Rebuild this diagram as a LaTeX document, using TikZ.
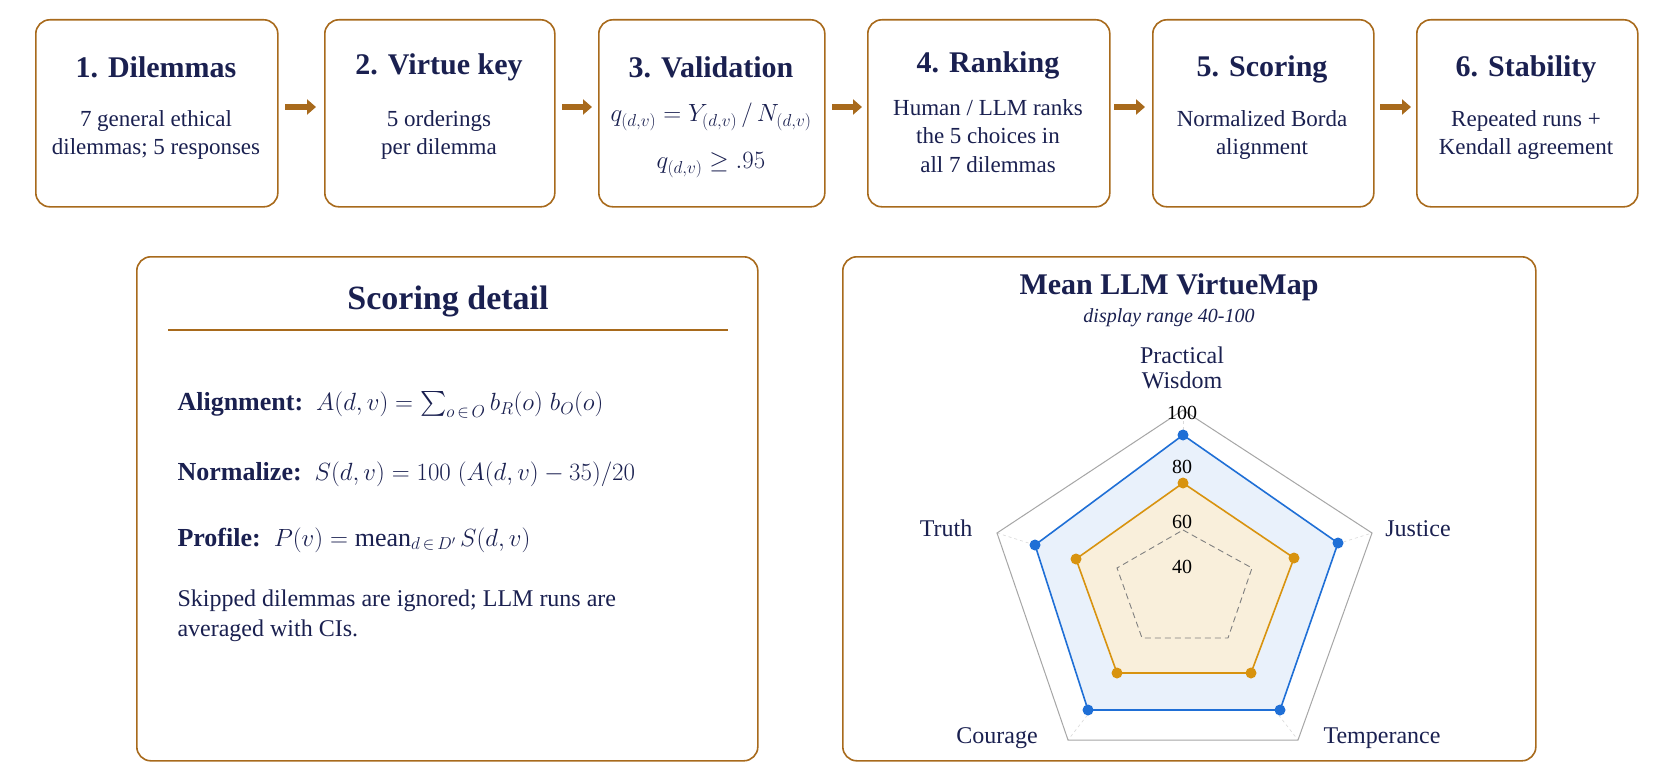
\documentclass[tikz,border=0pt]{standalone}
\usepackage{amsmath}
\usepackage{fontspec}
\setmainfont{Liberation Serif}
\usetikzlibrary{arrows.meta}
\definecolor{brn}{HTML}{A86A1C}
\definecolor{navy}{HTML}{1A2050}
\definecolor{bl}{HTML}{1F6FD6}
\definecolor{org}{HTML}{D8930F}
\newcommand{\fs}[1]{\fontsize{#1pt}{\dimexpr #1pt*5/4\relax}\selectfont}
\begin{document}
\begin{tikzpicture}[x=1pt,y=-1pt,
  box/.style={draw=brn,line width=1.6pt,rounded corners=14pt,fill=white},
  stepbox/.style={box,minimum height=187pt,anchor=north west},
  ttl/.style={font=\fs{30}\bfseries,text=navy},
  txt/.style={font=\fs{23},text=navy,align=center},
  arr/.style={-{Triangle[length=9pt,width=15pt]},line width=6pt,draw=brn}]
\useasboundingbox (0,0) rectangle (1672,776);
\fill[white] (0,0) rectangle (1672,776);
% top steps
\node[stepbox,minimum width=242pt] (b1) at (35,19) {};
\node[stepbox,minimum width=230pt] (b2) at (324,19) {};
\node[stepbox,minimum width=226pt] (b3) at (598,19) {};
\node[stepbox,minimum width=242pt] (b4) at (867,19) {};
\node[stepbox,minimum width=221pt] (b5) at (1152,19) {};
\node[stepbox,minimum width=221pt] (b6) at (1416,19) {};
\node[ttl] (t1) at (156,67) {1. Dilemmas};
\node[txt] (d1) at (156,135) {7 general ethical\\dilemmas; 5 responses};
\node[ttl] (t2) at (439,67) {2. Virtue key};
\node[txt] (d2) at (439,135) {5 orderings\\per dilemma};
\node[ttl] (t3) at (711,67) {3. Validation};
\node[txt,font=\fs{25}] (d3a) at (711,117) {$q_{(d,v)} = Y_{(d,v)}\,/\,N_{(d,v)}$};
\node[txt,font=\fs{25}] (d3b) at (711,165) {$q_{(d,v)} \geq .95$};
\node[ttl] (t4) at (988,65) {4. Ranking};
\node[txt] (d4) at (988,136) {Human / LLM ranks\\the 5 choices in\\all 7 dilemmas};
\node[ttl] (t5) at (1262,69) {5. Scoring};
\node[txt] (d5) at (1262,135) {Normalized Borda\\alignment};
\node[ttl] (t6) at (1526,69) {6. Stability};
\node[txt] (d6) at (1526,135) {Repeated runs +\\Kendall agreement};
\coordinate (a1s) at (285,107); \coordinate (a1e) at (316,107);
\coordinate (a2s) at (562,107); \coordinate (a2e) at (592,107);
\coordinate (a3s) at (832,107); \coordinate (a3e) at (862,107);
\coordinate (a4s) at (1114,107); \coordinate (a4e) at (1145,107);
\coordinate (a5s) at (1380,107); \coordinate (a5e) at (1411,107);
\foreach \i in {1,...,5} \draw[arr] (a\i s) -- (a\i e);
% scoring detail
\node[box,minimum width=621pt,minimum height=504pt,anchor=north west] (L) at (136,256) {};
\node[ttl,font=\fs{34}\bfseries] (Lt) at (448,301) {Scoring detail};
\coordinate (r1) at (168,330); \coordinate (r2) at (728,330);
\draw[brn,line width=1.4pt] (r1) -- (r2);
\node[anchor=west,font=\fs{26},text=navy] (f1) at (174,405) {\textbf{Alignment:}\enspace $A(d,v) = \sum_{o\,\in\,O} b_R(o)\; b_O(o)$};
\node[anchor=west,font=\fs{26},text=navy] (f2) at (174,474) {\textbf{Normalize:}\enspace $S(d,v) = 100\;(A(d,v) - 35)/20$};
\node[anchor=west,font=\fs{26},text=navy] (f3) at (174,540) {\textbf{Profile:}\enspace $P(v) = \mathrm{mean}_{d\,\in\,D'}\, S(d,v)$};
\node[anchor=north west,font=\fs{24},text=navy,align=left] (f4) at (174,586) {Skipped dilemmas are ignored; LLM runs are\\averaged with CIs.};
% radar
\node[box,minimum width=693pt,minimum height=504pt,anchor=north west] (R) at (842,256) {};
\node[ttl,font=\fs{30}\bfseries] (Rt) at (1169,287) {Mean LLM VirtueMap};
\node[font=\fs{20}\itshape,text=navy] (Rs) at (1169,318) {display range 40-100};
\coordinate (C) at (1183,592);
\coordinate (o1) at (1183,410); \coordinate (o2) at (1372,533); \coordinate (o3) at (1298,740);
\coordinate (o4) at (1068,740); \coordinate (o5) at (997,533);
\foreach \i in {1,...,5} \draw[gray!30,dashed,line width=0.6pt] (C) -- (o\i);
\draw[gray!70,line width=1pt] (o1)--(o2)--(o3)--(o4)--(o5)--cycle;
\coordinate (g1) at (1183,530); \coordinate (g2) at (1252,568); \coordinate (g3) at (1228,638);
\coordinate (g4) at (1142,638); \coordinate (g5) at (1117,568);
\coordinate (p1) at (1183,435); \coordinate (p2) at (1338,543); \coordinate (p3) at (1280,710);
\coordinate (p4) at (1088,710); \coordinate (p5) at (1035,545);
\coordinate (q1) at (1183,483); \coordinate (q2) at (1294,558); \coordinate (q3) at (1251,673);
\coordinate (q4) at (1117,673); \coordinate (q5) at (1076,559);
\fill[bl!10] (p1)--(p2)--(p3)--(p4)--(p5)--cycle;
\fill[org!15] (q1)--(q2)--(q3)--(q4)--(q5)--cycle;
\draw[gray,line width=0.9pt,dash pattern=on 6pt off 4pt] (g1)--(g2)--(g3)--(g4)--(g5)--cycle;
\draw[bl,line width=1.6pt] (p1)--(p2)--(p3)--(p4)--(p5)--cycle;
\draw[org,line width=1.6pt] (q1)--(q2)--(q3)--(q4)--(q5)--cycle;
\foreach \i in {1,...,5} {\fill[bl] (p\i) circle (5.5pt); \fill[org] (q\i) circle (5.5pt);}
\node[font=\fs{20}] (v100) at (1182,413) {100};
\node[font=\fs{20}] (v80) at (1182,467) {80};
\node[font=\fs{20}] (v60) at (1182,522) {60};
\node[font=\fs{20}] (v40) at (1182,567) {40};
\node[txt,font=\fs{24}] (lp) at (1182,368) {Practical\\[-5pt]Wisdom};
\node[txt,font=\fs{24}] (lt) at (946,528) {Truth};
\node[txt,font=\fs{24}] (lj) at (1418,529) {Justice};
\node[txt,font=\fs{24}] (lc) at (997,738) {Courage};
\node[txt,font=\fs{24}] (lte) at (1382,738) {Temperance};
\end{tikzpicture}
\end{document}
